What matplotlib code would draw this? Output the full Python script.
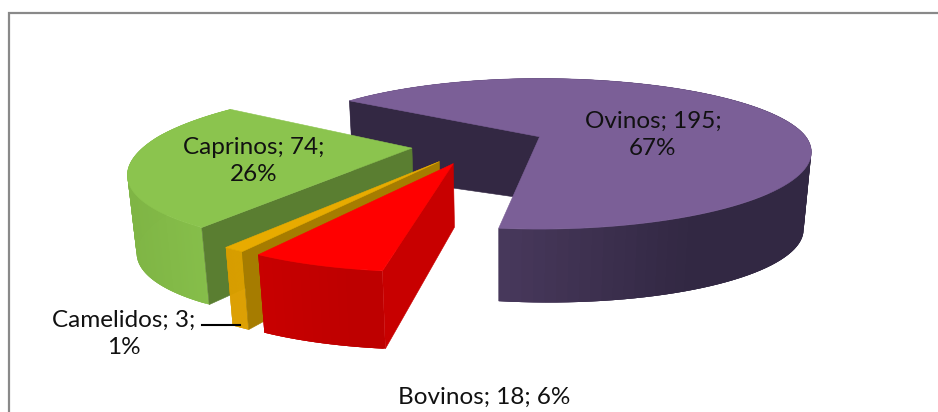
import numpy as np
import matplotlib
matplotlib.use('Agg')
import matplotlib.pyplot as plt
from matplotlib.patches import Polygon
from matplotlib.colors import to_rgb

plt.rcParams['font.family'] = ['Lato', 'DejaVu Sans']

# Daten
names = ['Ovinos', 'Bovinos', 'Camelidos', 'Caprinos']
values = [195, 18, 3, 74]
percents = [67, 6, 1, 26]

# Farben: Deckel, Wand, Rand (zwei Enden)
top_colors = ['#7B5F97', '#FF0000', '#E8AB00', '#8BC44E']
wall_colors = ['#332843', '#C80000', '#A67C00', '#5A7E31']
rim_a = ['#5A4570', '#C80000', '#DCA000', '#7FB545']
rim_b = ['#322843', '#BE0000', '#DCA000', '#86BE4A']

# Projektion (Pixel des Bildes)
ox, oy = 540, 137
ax_r, ax_l = 266.5, 261
ay_f, ay_b = 74, 70
qx_r, qx_l, qy = 0.2, 0.215, 0.2
cu, cv = -0.23, 0.098
explode = 0.25
start = 305


def project(u, v):
    x = np.where(u < 0, ax_l * u / (1 - qx_l * v), ax_r * u / (1 - qx_r * v))
    y = np.where(v < 0, ay_b, ay_f) * v / (1 - qy * v)
    return ox + x, oy + y


def drop(u, v, x, y):
    # Punkt auf der Unterseite
    r = np.hypot(u - cu, v - cv)
    depth = 60 + 18 * np.minimum(r, 1.25) / 1.25
    return x + (500 - x) * 0.025, y + depth


fig = plt.figure(figsize=(9.38, 4.12), dpi=100)
ax = fig.add_axes([0, 0, 1, 1])
ax.set_xlim(0, 938)
ax.set_ylim(412, 0)
ax.axis('off')

# Rahmen
ax.plot([9, 9, 938], [412, 13, 13], color='#898989', lw=1.6, solid_joinstyle='miter')

total = sum(values)
a0 = start
order = [0, 3, 2, 1]  # von hinten nach vorne
starts = {}
for i in range(len(values)):
    starts[i] = a0
    a0 += 360 * values[i] / total

for i in order:
    a0 = starts[i]
    sweep = 360 * values[i] / total
    a1 = a0 + sweep
    mid = np.radians(a0 + sweep / 2)
    pu = cu + explode * np.sin(mid)
    pv = cv - explode * np.cos(mid)

    th = np.radians(np.linspace(a0, a1, 120))
    ru = pu + np.sin(th)
    rv = pv - np.cos(th)
    rx, ry = project(ru, rv)
    bx, by = drop(ru, rv, rx, ry)
    ax0, ay0 = project(pu, pv)
    bx0, by0 = drop(pu, pv, ax0, ay0)

    # Rand in Streifen, ueberlappend damit keine Fugen bleiben
    ca, cb = np.array(to_rgb(rim_a[i])), np.array(to_rgb(rim_b[i]))
    lo, hi = rx.min(), rx.max()
    for k in range(len(th) - 1):
        t = min((rx[k] - lo) / (hi - lo) / 0.75, 1)
        col = ca + (cb - ca) * t
        n = min(k + 3, len(th) - 1)
        pts = list(zip(rx[k:n + 1], ry[k:n + 1])) + list(zip(bx[k:n + 1], by[k:n + 1]))[::-1]
        ax.add_patch(Polygon(pts, closed=True, fc=col, ec='none'))

    # Waende, nur die sichtbaren
    wmx = rx[len(th) // 2] - ax0
    wmy = ry[len(th) // 2] - ay0
    for j in [0, -1]:
        dx = rx[j] - ax0
        dy = ry[j] - ay0
        side = dx * wmy - dy * wmx
        if side * dx < 0:
            pts = [(ax0, ay0), (rx[j], ry[j]), (bx[j], by[j]), (bx0, by0)]
            ax.add_patch(Polygon(pts, closed=True, fc=wall_colors[i], ec=wall_colors[i], lw=0.4))

    # Deckel
    pts = [(ax0, ay0)] + list(zip(rx, ry))
    ax.add_patch(Polygon(pts, closed=True, fc=top_colors[i], ec=top_colors[i], lw=0.4))

# Beschriftung
fs = 17.5
tc = '#111111'
ls = 1.33
ax.text(653, 135, f'{names[0]}; {values[0]};\n{percents[0]}%', ha='center', va='center', fontsize=fs, color=tc, linespacing=ls)
ax.text(254, 161, f'{names[3]}; {values[3]};\n{percents[3]}%', ha='center', va='center', fontsize=fs, color=tc, linespacing=ls)
ax.text(124, 334, f'{names[2]}; {values[2]};\n{percents[2]}%', ha='center', va='center', fontsize=fs, color=tc, linespacing=ls)
ax.text(484, 397, f'{names[1]}; {values[1]}; {percents[1]}%', ha='center', va='center', fontsize=fs, color=tc)
ax.plot([202, 240], [325, 325], color='black', lw=1.5)

fig.savefig('out.png', dpi=100)
